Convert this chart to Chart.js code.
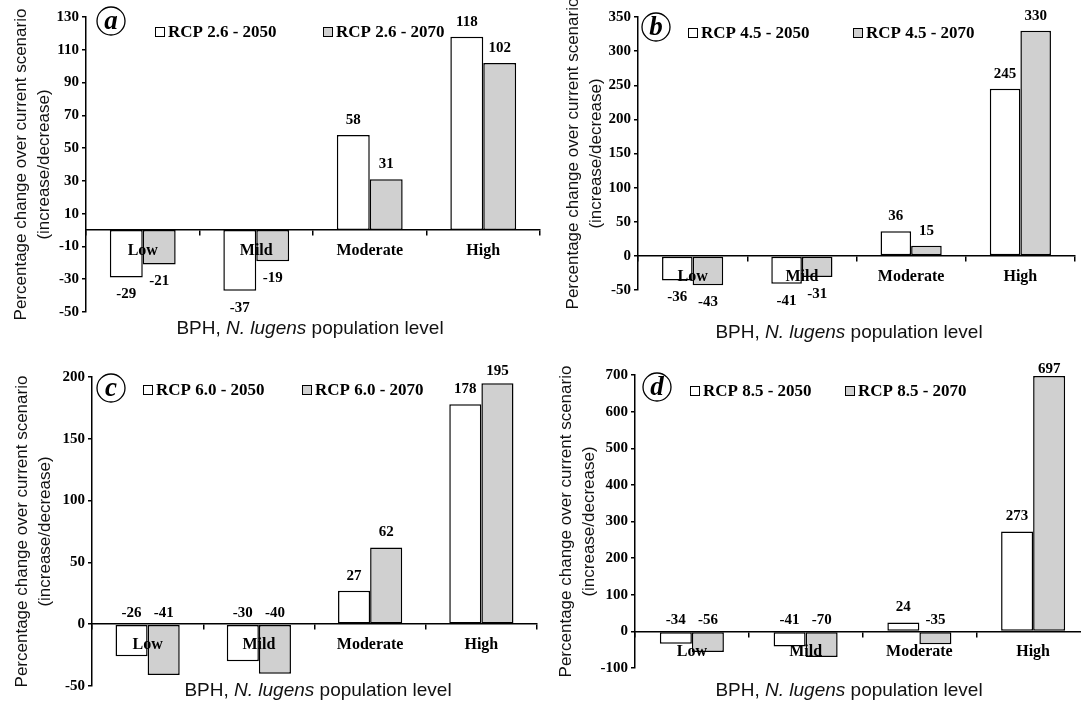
<!DOCTYPE html>
<html>
<head>
<meta charset="utf-8">
<script src="https://cdn.jsdelivr.net/npm/chart.js@4.4.0/dist/chart.umd.min.js"></script>
<style>
  html, body { margin: 0; padding: 0; background: #fff; overflow: hidden; width: 1081px; height: 704px; }
  canvas { position: absolute; }
</style>
</head>
<body>
<script>
// population levels on the x axis
const categories = ['Low', 'Mild', 'Moderate', 'High'];

// percentage change over current scenario
const rcp26_2050 = [-29, -37, 58, 118];
const rcp26_2070 = [-21, -19, 31, 102];
const rcp45_2050 = [-36, -41, 36, 245];
const rcp45_2070 = [-43, -31, 15, 330];
const rcp60_2050 = [-26, -30, 27, 178];
const rcp60_2070 = [-41, -40, 62, 195];
const rcp85_2050 = [-34, -41, 24, 273];
const rcp85_2070 = [-56, -70, -35, 697];

// y tick labels of each panel
const ticksA = [-50, -30, -10, 10, 30, 50, 70, 90, 110, 130];
const ticksB = [-50, 0, 50, 100, 150, 200, 250, 300, 350];
const ticksC = [-50, 0, 50, 100, 150, 200];
const ticksD = [-100, 0, 100, 200, 300, 400, 500, 600, 700];

const GRAY = '#d0d0d0';
const SERIF = '"Liberation Serif", "Times New Roman", serif';
const SANS = '"Liberation Sans", Arial, sans-serif';

// panel layout (page coordinates)
const panels = [
  { letter: 'a', left: 0, top: 0, width: 545, height: 352, axisX: 86, plotTop: 17, plotBottom: 312, plotRight: 540,
    names: ['RCP 2.6 - 2050', 'RCP 2.6 - 2070'], series: [rcp26_2050, rcp26_2070], ticks: ticksA,
    circle: [111, 21], legendX: [155, 323], legendY: 32, xTitle: [310, 329], negBelow: true, catPct: 0.58, yTitleX: 21 },
  { letter: 'b', left: 550, top: 0, width: 531, height: 352, axisX: 638, plotTop: 17, plotBottom: 290, plotRight: 1075,
    names: ['RCP 4.5 - 2050', 'RCP 4.5 - 2070'], series: [rcp45_2050, rcp45_2070], ticks: ticksB,
    circle: [656, 27], legendX: [688, 853], legendY: 33, xTitle: [849, 333], negBelow: true, catPct: 0.56, yTitleX: 573 },
  { letter: 'c', left: 0, top: 352, width: 545, height: 352, axisX: 92, plotTop: 377, plotBottom: 686, plotRight: 537,
    names: ['RCP 6.0 - 2050', 'RCP 6.0 - 2070'], series: [rcp60_2050, rcp60_2070], ticks: ticksC,
    circle: [111, 388], legendX: [143, 302], legendY: 390, xTitle: [318, 691], negBelow: false, catPct: 0.577, yTitleX: 22 },
  { letter: 'd', left: 545, top: 352, width: 550, height: 352, axisX: 635, plotTop: 375, plotBottom: 668, plotRight: 1090,
    names: ['RCP 8.5 - 2050', 'RCP 8.5 - 2070'], series: [rcp85_2050, rcp85_2070], ticks: ticksD,
    circle: [657, 387], legendX: [690, 845], legendY: 391, xTitle: [849, 691], negBelow: false, catPct: 0.563, yTitleX: 566 }
];

// value labels above / below the bars
const valueLabels = {
  id: 'valueLabels',
  afterDatasetsDraw(chart, args, opts) {
    const { ctx, chartArea } = chart;
    const zeroY = chart.scales.y.getPixelForValue(0);
    ctx.save();
    ctx.font = 'bold 15px ' + SERIF;
    ctx.fillStyle = '#000';
    ctx.textAlign = 'center';
    ctx.textBaseline = 'middle';
    chart.data.datasets.forEach((ds, i) => {
      chart.getDatasetMeta(i).data.forEach((bar, j) => {
        const v = ds.data[j];
        let y;
        if (v >= 0) y = Math.max(bar.y - 15, chartArea.top - 6);
        else if (opts.negBelow) y = bar.y + 17;
        else y = zeroY - 11;
        ctx.fillText(String(v), bar.x, y);
      });
    });
    ctx.restore();
  }
};

// circled panel letter, legend inside plot, x axis title with italics
const panelDecor = {
  id: 'panelDecor',
  afterDraw(chart, args, o) {
    const ctx = chart.ctx;
    ctx.save();
    ctx.strokeStyle = '#000';
    ctx.fillStyle = '#000';
    ctx.lineWidth = 1.3;
    ctx.beginPath();
    ctx.arc(o.circle[0], o.circle[1], 14, 0, Math.PI * 2);
    ctx.stroke();
    ctx.font = 'italic bold 27px ' + SERIF;
    ctx.textAlign = 'center';
    ctx.textBaseline = 'middle';
    ctx.fillText(o.letter, o.circle[0], o.circle[1] + 1);

    ctx.font = 'bold 17px ' + SERIF;
    ctx.textAlign = 'left';
    chart.data.datasets.forEach((ds, i) => {
      const x = o.legendX[i], y = o.legendY;
      ctx.fillStyle = ds.backgroundColor;
      ctx.fillRect(x, y - 5, 10, 10);
      ctx.lineWidth = 1;
      ctx.strokeRect(x + 0.5, y - 4.5, 9, 9);
      ctx.fillStyle = '#000';
      ctx.fillText(ds.label, x + 13, y + 1);
    });

    const parts = [['BPH, ', false], ['N. lugens', true], [' population level', false]];
    const fonts = [ '19px ' + SANS, 'italic 19px ' + SANS ];
    let total = 0;
    parts.forEach(p => { ctx.font = fonts[p[1] ? 1 : 0]; total += ctx.measureText(p[0]).width; });
    let x = o.xTitle[0] - total / 2;
    ctx.fillStyle = '#111';
    parts.forEach(p => {
      ctx.font = fonts[p[1] ? 1 : 0];
      ctx.fillText(p[0], x, o.xTitle[1]);
      x += ctx.measureText(p[0]).width;
    });
    ctx.restore();
  }
};

panels.forEach(p => {
  const canvas = document.createElement('canvas');
  canvas.width = p.width;
  canvas.height = p.height;
  canvas.style.left = p.left + 'px';
  canvas.style.top = p.top + 'px';
  document.body.appendChild(canvas);

  new Chart(canvas.getContext('2d'), {
    type: 'bar',
    data: {
      labels: categories,
      datasets: [
        { label: p.names[0], data: p.series[0], backgroundColor: '#ffffff' },
        { label: p.names[1], data: p.series[1], backgroundColor: GRAY }
      ]
    },
    options: {
      responsive: false,
      animation: false,
      devicePixelRatio: 1,
      layout: {
        padding: { left: 0, top: p.plotTop - p.top, right: p.left + p.width - p.plotRight, bottom: p.top + p.height - p.plotBottom }
      },
      datasets: {
        bar: {
          borderColor: '#000', borderWidth: 1.5, borderSkipped: false,
          categoryPercentage: p.catPct, barPercentage: 1
        }
      },
      scales: {
        x: {
          position: { y: 0 },
          offset: true,
          grid: { offset: true, drawOnChartArea: false, drawTicks: true, tickLength: 5, color: '#000', lineWidth: 1.5 },
          border: { display: true, color: '#000', width: 1.5, z: 1 },
          ticks: { z: 1, color: '#000', padding: 6, font: { family: SERIF, size: 16, weight: 'bold' } }
        },
        y: {
          position: 'left',
          min: p.ticks[0],
          max: p.ticks[p.ticks.length - 1],
          afterBuildTicks: s => { s.ticks = p.ticks.map(v => ({ value: v })); },
          afterFit: s => { s.width = p.axisX - p.left; },
          grid: { drawOnChartArea: false, drawTicks: true, tickLength: 4, color: '#000', lineWidth: 1.5 },
          border: { display: true, color: '#000', width: 1.5 },
          ticks: { color: '#000', padding: 3, callback: v => String(v), font: { family: SERIF, size: 15, weight: 'bold' } },
          title: {
            display: true,
            text: ['Percentage change over current scenario', '(increase/decrease)'],
            color: '#111',
            font: { family: SANS, size: 17, lineHeight: 1.4 },
            padding: { top: p.yTitleX - p.left - 12, bottom: 0 }
          }
        }
      },
      plugins: {
        legend: { display: false },
        tooltip: { enabled: false },
        valueLabels: { negBelow: p.negBelow },
        panelDecor: {
          letter: p.letter,
          circle: [p.circle[0] - p.left, p.circle[1] - p.top],
          legendX: p.legendX.map(v => v - p.left),
          legendY: p.legendY - p.top,
          xTitle: [p.xTitle[0] - p.left, p.xTitle[1] - p.top]
        }
      }
    },
    plugins: [valueLabels, panelDecor]
  });
});
</script>
</body>
</html>
